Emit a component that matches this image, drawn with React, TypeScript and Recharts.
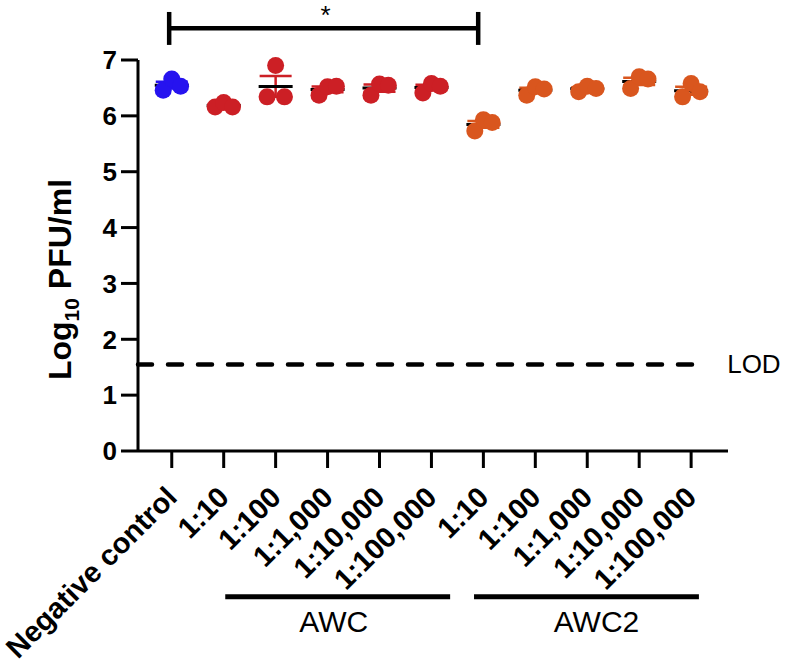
import React from 'react';
import { ScatterChart, Scatter, XAxis, YAxis, ReferenceLine, ErrorBar } from 'recharts';

const categories = ['Negative control', '1:10', '1:100', '1:1,000', '1:10,000', '1:100,000', '1:10', '1:100', '1:1,000', '1:10,000', '1:100,000'];
const negativeControl = [[6.46, 6.66, 6.53]];
const awcValues = [[6.16, 6.24, 6.16], [6.34, 6.90, 6.34], [6.37, 6.52, 6.53], [6.37, 6.57, 6.55], [6.41, 6.58, 6.53]];
const awc2Values = [[5.73, 5.93, 5.88], [6.37, 6.52, 6.48], [6.43, 6.53, 6.49], [6.49, 6.70, 6.66], [6.34, 6.58, 6.43]];
const yTicks = [0, 1, 2, 3, 4, 5, 6, 7];
const lodValue = 1.55;
const groupLabels = ['AWC', 'AWC2'];

const FONT = 'Liberation Sans, Arial, sans-serif';
const BLUE = '#2613ef';
const RED = '#cc1f25';
const ORANGE = '#d9561e';
const JITTER = [-0.165, 0, 0.17];

const mean = (a: number[]) => a.reduce((s, v) => s + v, 0) / a.length;
const sem = (a: number[]) => {
  const m = mean(a);
  const sd = Math.sqrt(a.reduce((s, v) => s + (v - m) * (v - m), 0) / (a.length - 1));
  return sd / Math.sqrt(a.length);
};

const toPoints = (groups: number[][], start: number) =>
  groups.flatMap((vals, g) => vals.map((v, j) => ({ x: start + g + JITTER[j], y: v })));
const toMeans = (groups: number[][], start: number) =>
  groups.map((vals, g) => ({ x: start + g, y: mean(vals), sem: sem(vals) }));

const bluePts = toPoints(negativeControl, 0);
const redPts = toPoints(awcValues, 1);
const orangePts = toPoints(awc2Values, 6);
const blueMeans = toMeans(negativeControl, 0);
const redMeans = toMeans(awcValues, 1);
const orangeMeans = toMeans(awc2Values, 6);

const dot = (color: string) => (p: any) => <circle cx={p.cx} cy={p.cy} r={8.5} fill={color} />;
const meanLine = (p: any) => (
  <line x1={p.cx - 17} x2={p.cx + 17} y1={p.cy} y2={p.cy} stroke="#000" strokeWidth={3} />
);

const XTick = (props: any) => {
  const { x, y, payload } = props;
  const ax = x + 7;
  const ay = y + 29;
  return (
    <text x={ax} y={ay} transform={`rotate(-45 ${ax} ${ay})`} textAnchor="end" fontFamily={FONT} fontWeight={700} fontSize={29} fill="#000">
      {categories[payload.value]}
    </text>
  );
};

const groupLabel = (text: string, dx: number) => (p: any) => {
  const vb = p.viewBox;
  return (
    <text x={vb.x + vb.width / 2 + dx} y={vb.y + 35} textAnchor="middle" fontFamily={FONT} fontSize={30} fill="#000">
      {text}
    </text>
  );
};

export default function App() {
  return (
    <div style={{ position: 'absolute', left: 0, top: 0, background: '#fff' }}>
      <ScatterChart width={791} height={663} margin={{ top: 60, right: 63, bottom: 62, left: 78 }}>
        <XAxis
          type="number"
          dataKey="x"
          domain={[-0.65, 10.71]}
          ticks={categories.map((_, i) => i)}
          interval={0}
          height={150}
          tickSize={17}
          tick={<XTick />}
          axisLine={{ stroke: '#000', strokeWidth: 3 }}
          tickLine={{ stroke: '#000', strokeWidth: 3 }}
        />
        <YAxis
          type="number"
          dataKey="y"
          domain={[0, 7]}
          ticks={yTicks}
          interval={0}
          width={60}
          tickSize={17}
          tickMargin={4}
          tick={{ fill: '#000', fontSize: 26, fontWeight: 700, fontFamily: FONT }}
          axisLine={{ stroke: '#000', strokeWidth: 3 }}
          tickLine={{ stroke: '#000', strokeWidth: 3 }}
          label={(p: any) => {
            const vb = p.viewBox;
            const x = vb.x - 7;
            const y = vb.y + vb.height / 2 + 24;
            return (
              <text x={x} y={y} transform={`rotate(-90 ${x} ${y})`} textAnchor="middle" fontFamily={FONT} fontWeight={700} fontSize={32} fill="#000">
                <tspan>Log</tspan>
                <tspan dy={8} fontSize={21}>10</tspan>
                <tspan dy={-8}> PFU/ml</tspan>
              </text>
            );
          }}
        />
        <ReferenceLine
          segment={[{ x: -0.65, y: lodValue }, { x: 10.29, y: lodValue }]}
          stroke="#000"
          strokeWidth={4.5}
          strokeDasharray="14 16"
          strokeLinecap="round"
          ifOverflow="visible"
          label={(p: any) => (
            <text x={p.viewBox.x + p.viewBox.width + 21} y={p.viewBox.y + 9} fontFamily={FONT} fontSize={26} fill="#000">LOD</text>
          )}
        />
        <ReferenceLine
          segment={[{ x: -0.05, y: 7.57 }, { x: 5.9, y: 7.57 }]}
          stroke="#000"
          strokeWidth={4.5}
          ifOverflow="visible"
          label={(p: any) => (
            <text x={p.viewBox.x + p.viewBox.width / 2 + 2} y={p.viewBox.y - 4} textAnchor="middle" fontFamily={FONT} fontSize={26} fill="#000">*</text>
          )}
        />
        <ReferenceLine segment={[{ x: -0.05, y: 7.27 }, { x: -0.05, y: 7.86 }]} stroke="#000" strokeWidth={4.5} ifOverflow="visible" />
        <ReferenceLine segment={[{ x: 5.9, y: 7.27 }, { x: 5.9, y: 7.86 }]} stroke="#000" strokeWidth={4.5} ifOverflow="visible" />
        <ReferenceLine
          segment={[{ x: 1.03, y: -2.61 }, { x: 5.36, y: -2.61 }]}
          stroke="#000"
          strokeWidth={5}
          ifOverflow="visible"
          label={groupLabel(groupLabels[0], -4)}
        />
        <ReferenceLine
          segment={[{ x: 5.82, y: -2.61 }, { x: 10.15, y: -2.61 }]}
          stroke="#000"
          strokeWidth={5}
          ifOverflow="visible"
          label={groupLabel(groupLabels[1], 10)}
        />
        <Scatter data={blueMeans} shape={meanLine} isAnimationActive={false}>
          <ErrorBar dataKey="sem" direction="y" width={16} stroke={BLUE} strokeWidth={2.5} isAnimationActive={false} />
        </Scatter>
        <Scatter data={redMeans} shape={meanLine} isAnimationActive={false}>
          <ErrorBar dataKey="sem" direction="y" width={16} stroke={RED} strokeWidth={2.5} isAnimationActive={false} />
        </Scatter>
        <Scatter data={orangeMeans} shape={meanLine} isAnimationActive={false}>
          <ErrorBar dataKey="sem" direction="y" width={16} stroke={ORANGE} strokeWidth={2.5} isAnimationActive={false} />
        </Scatter>
        <Scatter data={bluePts} shape={dot(BLUE)} isAnimationActive={false} />
        <Scatter data={redPts} shape={dot(RED)} isAnimationActive={false} />
        <Scatter data={orangePts} shape={dot(ORANGE)} isAnimationActive={false} />
      </ScatterChart>
    </div>
  );
}
